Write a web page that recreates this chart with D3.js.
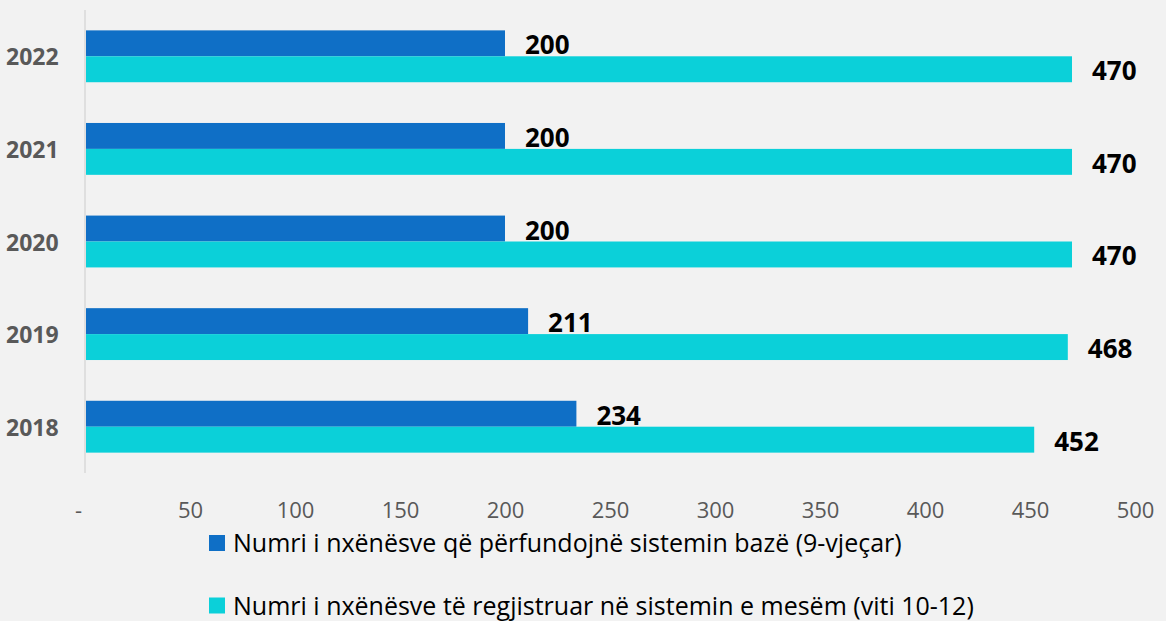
<!DOCTYPE html>
<html>
<head>
<meta charset="utf-8">
<script src="https://cdn.jsdelivr.net/npm/d3@7"></script>
<style>
  html, body { margin: 0; padding: 0; background: #f2f2f2; }
  svg { display: block; }
  text { font-family: "Open Sans", "Noto Sans", sans-serif; }
</style>
</head>
<body>
<svg id="chart" width="1166" height="621"></svg>
<script>
// Student counts per year
const years = ["2022", "2021", "2020", "2019", "2018"];
const basicCompleted = [200, 200, 200, 211, 234];   // finishing 9-year basic education
const secondaryEnrolled = [470, 470, 470, 468, 452]; // enrolled in upper secondary (10-12)
const seriesNames = [
  "Numri i nxënësve që përfundojnë sistemin bazë (9-vjeçar)",
  "Numri i nxënësve të regjistruar në sistemin e mesëm (viti 10-12)"
];
const tickValues = [0, 50, 100, 150, 200, 250, 300, 350, 400, 450, 500];
const colors = ["#0f6fc6", "#0bd0d9"];

const svg = d3.select("#chart");
const plotLeft = 85, plotRight = 1135, plotTop = 10, plotBottom = 473;

const x = d3.scaleLinear().domain([0, 500]).range([plotLeft, plotRight]);
const y = d3.scaleBand().domain(years).range([plotTop, plotBottom]).paddingInner(0.44).paddingOuter(0.22);
const sub = d3.scaleBand().domain([0, 1]).range([0, y.bandwidth()]);

const rows = years.map((yr, i) => ({ yr, vals: [basicCompleted[i], secondaryEnrolled[i]] }));

// bars and value labels
const g = svg.append("g");
rows.forEach(r => {
  r.vals.forEach((v, k) => {
    g.append("rect")
      .attr("x", x(0) + 1)
      .attr("y", y(r.yr) + sub(k))
      .attr("width", x(v) - x(0) - 1)
      .attr("height", sub.bandwidth())
      .attr("fill", colors[k]);
    g.append("text")
      .attr("x", x(v) + 20)
      .attr("y", y(r.yr) + sub(k) + sub.bandwidth() / 2 + 11)
      .attr("font-size", 26)
      .attr("font-weight", 700)
      .attr("fill", "#000")
      .text(v);
  });
});

// category axis
svg.append("line")
  .attr("x1", plotLeft).attr("x2", plotLeft)
  .attr("y1", plotTop).attr("y2", plotBottom)
  .attr("stroke", "#d9d9d9").attr("stroke-width", 1.5);

svg.append("g").selectAll("text").data(years).join("text")
  .attr("x", 6)
  .attr("y", d => y(d) + y.bandwidth() / 2 + 9)
  .attr("font-size", 23)
  .attr("font-weight", 700)
  .attr("fill", "#595959")
  .text(d => d);

// value axis labels
const xAxis = d3.axisBottom(x).tickValues(tickValues).tickSize(0)
  .tickFormat(d => d === 0 ? "-" : d);
const ax = svg.append("g").attr("transform", `translate(0, ${plotBottom})`).call(xAxis);
ax.select(".domain").remove();
ax.selectAll("text")
  .attr("font-family", "\"Open Sans\", sans-serif")
  .attr("font-size", 22)
  .attr("fill", "#595959")
  .attr("y", 45)
  .attr("dy", null)
  .attr("dx", d => d === 0 ? -7 : 0);

// legend
const leg = svg.append("g");
seriesNames.forEach((name, k) => {
  const baseline = 552 + k * 62.5;
  leg.append("rect").attr("x", 209).attr("y", baseline - 17).attr("width", 16).attr("height", 16).attr("fill", colors[k]);
  leg.append("text")
    .attr("x", 233).attr("y", baseline)
    .attr("font-size", 25)
    .attr("fill", "#000")
    .text(name);
});
</script>
</body>
</html>
